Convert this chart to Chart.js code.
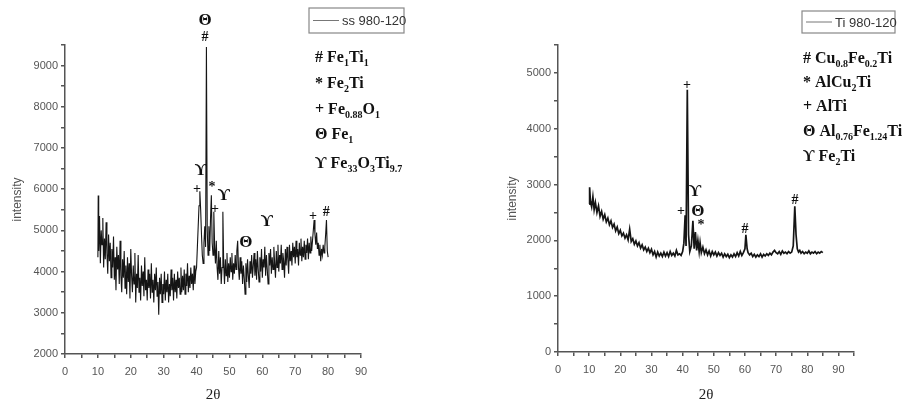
<!DOCTYPE html>
<html>
<head>
<meta charset="utf-8">
<script src="https://cdn.jsdelivr.net/npm/chart.js@4/dist/chart.umd.min.js"></script>
<style>
  html, body { margin: 0; padding: 0; background: #fff; width: 902px; height: 404px; overflow: hidden; }
  canvas { position: absolute; top: 0; }
  #ss { left: 0; }
  #ti { left: 451px; }
</style>
</head>
<body>
<canvas id="ss" width="451" height="404"></canvas>
<canvas id="ti" width="451" height="404"></canvas>
<script>
// ---- data: ss 980-120 ----
const ssAngle = [
  10, 10.1, 10.25, 10.5, 10.75, 11, 11.25, 11.5, 11.75, 12, 12.25, 12.5, 12.75, 13, 13.25, 13.5, 13.75,
  14, 14.25, 14.5, 14.75, 15, 15.25, 15.5, 15.75, 16, 16.25, 16.5, 16.75, 17, 17.25, 17.5, 17.75,
  18, 18.25, 18.5, 18.75, 19, 19.25, 19.5, 19.75, 20, 20.25, 20.5, 20.75, 21, 21.25, 21.5, 21.75,
  22, 22.25, 22.5, 22.75, 23, 23.25, 23.5, 23.75, 24, 24.25, 24.5, 24.75, 25, 25.25, 25.5, 25.75,
  26, 26.25, 26.5, 26.75, 27, 27.25, 27.5, 27.75, 28, 28.25, 28.5, 28.75, 29, 29.25, 29.5, 29.75,
  30, 30.25, 30.5, 30.75, 31, 31.25, 31.5, 31.75, 32, 32.25, 32.5, 32.75, 33, 33.25, 33.5, 33.75,
  34, 34.25, 34.5, 34.75, 35, 35.25, 35.5, 35.75, 36, 36.25, 36.5, 36.75, 37, 37.25, 37.5, 37.75,
  38, 38.25, 38.5, 38.75, 39, 39.25, 39.5, 39.75,
  40, 40.25, 40.5, 40.75, 41, 41.25, 41.5, 41.75, 42, 42.25, 42.5, 42.75, 43, 43.25, 43.5, 43.75,
  44, 44.25, 44.5, 44.75, 45, 45.25, 45.5, 45.75, 46, 46.25, 46.5, 46.75, 47, 47.25, 47.5, 47.75,
  48, 48.25, 48.5, 48.75, 49, 49.25, 49.5, 49.75,
  50, 50.25, 50.5, 50.75, 51, 51.25, 51.5, 51.75, 52, 52.25, 52.5, 52.75, 53, 53.25, 53.5, 53.75,
  54, 54.25, 54.5, 54.75, 55, 55.25, 55.5, 55.75, 56, 56.25, 56.5, 56.75, 57, 57.25, 57.5, 57.75,
  58, 58.25, 58.5, 58.75, 59, 59.25, 59.5, 59.75, 60, 60.25, 60.5, 60.75, 61, 61.25, 61.5, 61.75,
  62, 62.25, 62.5, 62.75, 63, 63.25, 63.5, 63.75, 64, 64.25, 64.5, 64.75, 65, 65.25, 65.5, 65.75,
  66, 66.25, 66.5, 66.75, 67, 67.25, 67.5, 67.75, 68, 68.25, 68.5, 68.75, 69, 69.25, 69.5, 69.75,
  70, 70.25, 70.5, 70.75, 71, 71.25, 71.5, 71.75, 72, 72.25, 72.5, 72.75, 73, 73.25, 73.5, 73.75,
  74, 74.25, 74.5, 74.75, 75, 75.25, 75.5, 75.75, 76, 76.25, 76.5, 76.75, 77, 77.25, 77.5, 77.75,
  78, 78.25, 78.5, 78.75, 79, 79.25, 79.5, 79.75, 80];
const ssIntensity = [
  4350, 5850, 4500, 5350, 4200, 5000, 4650, 5300, 4100, 4800, 4300, 5200, 4450, 3950, 4900, 4250, 4700,
  3850, 4550, 4100, 4850, 3800, 4350, 3550, 4600, 4050, 4400, 3700, 4750, 3900, 3500, 4300, 3850,
  4500, 3600, 4150, 3450, 4350, 3750, 4200, 3350, 4550, 3900, 3500, 4150, 3700, 4450, 3250, 3950,
  3600, 4400, 3500, 3850, 3300, 4150, 3650, 4000, 3400, 4350, 3550, 3800, 3300, 4050, 3600, 3950,
  3350, 4200, 3500, 3800, 3250, 3950, 3550, 4100, 3400, 3750, 2950, 3850, 3450, 3950, 3250, 3700,
  3450, 4000, 3300, 3800, 3500, 3950, 3250, 3700, 3400, 4050, 3550, 3850, 3300, 3950, 3500, 3800,
  3350, 4000, 3600, 3850, 3450, 4100, 3500, 3900, 3550, 4050, 3450, 3950, 3650, 4200, 3500, 3900,
  3600, 4100, 3700, 3950, 3550, 4150, 3700, 4000,
  4100, 4600, 5100, 5600, 5950, 5500, 4900, 4400, 4200, 4700, 5100, 4600, 9450, 5000, 4400, 5100,
  4500, 5300, 5850, 4700, 4400, 5450, 4600, 4200, 4750, 4100, 3800, 4500, 3950, 4350, 3700, 4100,
  5450, 4200, 3700, 4300, 3900, 4450, 3750, 4200,
  3850, 4350, 4000, 4450, 3800, 4200, 3950, 4400, 4050, 4500, 4750, 4100, 3800, 4350, 3950, 4250,
  3700, 4150, 3850, 3450, 4200, 3750, 4300, 3900, 3600, 4250, 3950, 4400, 3850, 4150, 4450, 3900,
  4300, 3800, 4500, 4050, 3750, 4350, 4000, 4550, 3850, 4300, 4100, 4600, 3900, 4400, 4050, 3700,
  4450, 4150, 4550, 3950, 4350, 4050, 4600, 4200, 3850, 4500, 4100, 4650, 4000, 4400, 4200, 4650,
  4050, 4450, 4250, 3850, 4550, 4150, 4600, 4300, 3950, 4650, 4250, 4500, 4150, 4700, 4350, 4600,
  4200, 4750, 4350, 4550, 4150, 4700, 4400, 4800, 4250, 4600, 4350, 4750, 4300, 4650, 4450, 4800,
  4300, 4700, 4450, 4850, 4500, 4750, 5000, 5250, 4900, 4650, 4950, 4550, 4700, 4400, 4650, 4250,
  4550, 4400, 4650, 4450, 4600, 4900, 5250, 4500, 4350];
const ssPeakAngle = [42.6, 42.6, 41.3, 40.1, 44.7, 48.3, 45.6, 55.0, 61.4, 75.4, 79.4];
const ssPeakLevel = [10080, 9690, 6450, 5990, 6040, 5840, 5500, 4700, 5210, 5330, 5430];
const ssPeakMark = ['Θ', '#', 'ϒ', '+', '*', 'ϒ', '+', 'Θ', 'ϒ', '+', '#'];
const ssPhases = ['# Fe{1}Ti{1}', '* Fe{2}Ti', '+ Fe{0.88}O{1}', 'Θ Fe{1}', 'ϒ Fe{33}O{3}Ti{9.7}'];

// ---- data: Ti 980-120 ----
const tiAngle = [10, 10.15, 10.4, 10.8, 11.2, 11.6, 12, 12.5, 13, 13.5, 14, 14.5, 15, 15.5, 16, 16.5, 17, 17.5, 18, 18.5, 19, 19.5,
  20, 20.5, 21, 21.5, 22, 22.5, 23, 23.5, 24, 24.5, 25, 25.5, 26, 26.5, 27, 27.5, 28, 28.5, 29, 29.5,
  30, 30.5, 31, 31.5, 32, 32.5, 33, 33.5, 34, 34.5, 35, 35.5, 36, 36.5, 37, 37.5, 38, 38.5, 39, 39.5,
  40, 40.4, 40.8, 41.1, 41.5, 41.9, 42.3, 42.8, 43.3, 43.7, 44.1, 44.5, 44.9, 45.3, 45.6, 46, 46.5, 47, 47.5, 48, 48.5, 49, 49.5,
  50, 50.5, 51, 51.5, 52, 52.5, 53, 53.5, 54, 54.5, 55, 55.5, 56, 56.5, 57, 57.5, 58, 58.5, 59, 59.5,
  60, 60.3, 60.7, 61, 61.5, 62, 62.5, 63, 63.5, 64, 64.5, 65, 65.5, 66, 66.5, 67, 67.5, 68, 68.5, 69, 69.5,
  70, 70.5, 71, 71.5, 72, 72.5, 73, 73.5, 74, 74.5, 75, 75.5, 76, 76.4, 76.8, 77.2, 77.6, 78, 78.5, 79, 79.5,
  80, 80.5, 81, 81.5, 82, 82.5, 83, 83.5, 84, 84.5, 85];
const tiIntensity = [2650, 2950, 2700, 2600, 2780, 2550, 2680, 2500, 2620, 2430, 2520, 2380, 2460, 2330, 2400, 2280, 2350, 2230, 2290, 2170, 2240, 2120,
  2180, 2080, 2130, 2040, 2100, 2010, 2200, 1980, 2030, 1930, 1990, 1900, 1960, 1860, 1920, 1830, 1880, 1800, 1860, 1780,
  1840, 1740, 1800, 1700, 1790, 1720, 1770, 1710, 1790, 1720, 1780, 1710, 1800, 1730, 1770, 1720, 1820, 1740, 1760, 1730,
  1800, 1950, 2450, 1900, 4700, 2100, 1800, 1900, 2350, 1850, 2150, 1820, 2000, 1800, 1960, 1780, 1880, 1760, 1830, 1740, 1810, 1720, 1800,
  1740, 1790, 1720, 1780, 1730, 1770, 1700, 1760, 1710, 1750, 1690, 1740, 1700, 1760, 1710, 1780, 1720, 1800, 1730, 1780,
  1850, 2100, 1850, 1780, 1740, 1770, 1710, 1750, 1700, 1740, 1710, 1760, 1700, 1750, 1720, 1760, 1730, 1770, 1740, 1790, 1820,
  1780, 1760, 1800, 1750, 1810, 1770, 1790, 1760, 1800, 1770, 1790, 1900, 2610, 2100, 1850, 1790, 1820, 1770, 1800, 1760, 1790,
  1770, 1810, 1760, 1790, 1770, 1800, 1760, 1790, 1770, 1800, 1780];
const tiPeakAngle = [41.4, 44.0, 39.5, 44.9, 45.9, 60.0, 76.1];
const tiPeakLevel = [4780, 2880, 2520, 2520, 2270, 2190, 2720];
const tiPeakMark = ['+', 'ϒ', '+', 'Θ', '*', '#', '#'];
const tiPhases = ['# Cu{0.8}Fe{0.2}Ti', '* AlCu{2}Ti', '+ AlTi', 'Θ Al{0.76}Fe{1.24}Ti{1}', 'ϒ Fe{2}Ti'];

const serif = '"Liberation Serif", "Times New Roman", serif';
const sans = '"Liberation Sans Narrow", "Liberation Sans", Arial, sans-serif';

// text with {subscripts}
function richText(ctx, x, y, str, size) {
  let cx = x;
  str.split(/(\{[^}]*\})/).forEach(part => {
    if (!part) return;
    const sub = part[0] === '{';
    const txt = sub ? part.slice(1, -1) : part;
    ctx.font = 'bold ' + (sub ? Math.round(size * 0.62) : size) + 'px ' + serif;
    ctx.fillText(txt, cx, sub ? y + size * 0.25 : y);
    cx += ctx.measureText(txt).width;
  });
}

const annotate = {
  id: 'annotate',
  afterDraw(chart, args, o) {
    const { ctx, scales: { x, y } } = chart;
    ctx.save();
    ctx.fillStyle = '#111';
    ctx.textAlign = 'center';
    ctx.textBaseline = 'middle';
    o.marks.forEach((m, i) => {
      const big = m === 'Θ' || m === 'ϒ';
      ctx.font = 'bold ' + (big ? 17 : 14) + 'px ' + serif;
      ctx.fillText(m, x.getPixelForValue(o.angle[i]), y.getPixelForValue(o.level[i]));
    });

    // legend box
    const b = o.box;
    ctx.strokeStyle = '#888';
    ctx.lineWidth = 1.2;
    ctx.strokeRect(b.x, b.y, b.w, b.h);
    ctx.strokeStyle = '#777';
    ctx.lineWidth = 1;
    ctx.beginPath();
    ctx.moveTo(b.x + 4, b.y + b.h / 2);
    ctx.lineTo(b.x + 30, b.y + b.h / 2);
    ctx.stroke();
    ctx.fillStyle = '#333';
    ctx.textAlign = 'left';
    ctx.font = '13px ' + sans;
    ctx.fillText(o.label, b.x + 33, b.y + b.h / 2 + 1);

    // phase list
    ctx.fillStyle = '#111';
    ctx.textBaseline = 'alphabetic';
    o.phases.forEach((p, i) => richText(ctx, o.listX, o.listY[i], p, 16));
    ctx.restore();
  }
};

function makeChart(id, angle, intensity, cfg) {
  const axisColor = '#555';
  const tickFont = { family: sans, size: 11 };
  return new Chart(document.getElementById(id), {
    type: 'line',
    data: {
      datasets: [{
        data: angle.map((a, i) => ({ x: a, y: intensity[i] })),
        borderColor: '#151515',
        borderWidth: cfg.lineWidth,
        pointRadius: 0,
        tension: 0
      }]
    },
    options: {
      responsive: false,
      animation: false,
      layout: { padding: cfg.padding },
      plugins: {
        legend: { display: false },
        tooltip: { enabled: false },
        annotate: cfg.notes
      },
      scales: {
        x: {
          type: 'linear',
          min: 0, max: cfg.xMax,
          afterFit: s => { s.height = cfg.xHeight; },
          border: { display: true, color: axisColor, width: 1.5 },
          grid: { drawOnChartArea: false, drawTicks: true, tickLength: 4, color: axisColor, lineWidth: 1.5 },
          ticks: {
            stepSize: 5, color: '#555', font: tickFont, padding: 7, maxRotation: 0, autoSkip: false,
            callback: v => (v % 10 === 0 ? v : '')
          },
          title: { display: true, text: '2θ', color: '#222', font: { family: serif, size: 15 }, padding: { top: 0, bottom: 0 } }
        },
        y: {
          min: cfg.yMin, max: cfg.yMax,
          afterFit: s => { s.width = cfg.yWidth; },
          border: { display: true, color: axisColor, width: 1.5 },
          grid: { drawOnChartArea: false, drawTicks: true, tickLength: 4, color: axisColor, lineWidth: 1.5 },
          ticks: {
            stepSize: 500, color: '#555', font: tickFont, padding: 3, autoSkip: false,
            callback: v => (v % 1000 === 0 ? v : '')
          },
          title: { display: true, text: 'intensity', color: '#555', font: { family: sans, size: 12 }, padding: { top: 10, bottom: 0 } }
        }
      }
    },
    plugins: [annotate]
  });
}

makeChart('ss', ssAngle, ssIntensity, {
  xMax: 90, yMin: 2000, yMax: 9500, lineWidth: 1.1,
  padding: { left: 0, right: 90, top: 45, bottom: 0 },
  xHeight: 50, yWidth: 65,
  notes: {
    angle: ssPeakAngle, level: ssPeakLevel, marks: ssPeakMark,
    label: 'ss 980-120', box: { x: 309, y: 8, w: 95, h: 25 },
    phases: ssPhases, listX: 315, listY: [62, 88, 114, 139, 168]
  }
});

makeChart('ti', tiAngle, tiIntensity, {
  xMax: 95, yMin: 0, yMax: 5500, lineWidth: 1.7,
  padding: { left: 44, right: 48, top: 45, bottom: 0 },
  xHeight: 52, yWidth: 63,
  notes: {
    angle: tiPeakAngle, level: tiPeakLevel, marks: tiPeakMark,
    label: 'Ti 980-120', box: { x: 351, y: 11, w: 93, h: 22 },
    phases: tiPhases, listX: 352, listY: [63, 87, 111, 136, 161]
  }
});
</script>
</body>
</html>
